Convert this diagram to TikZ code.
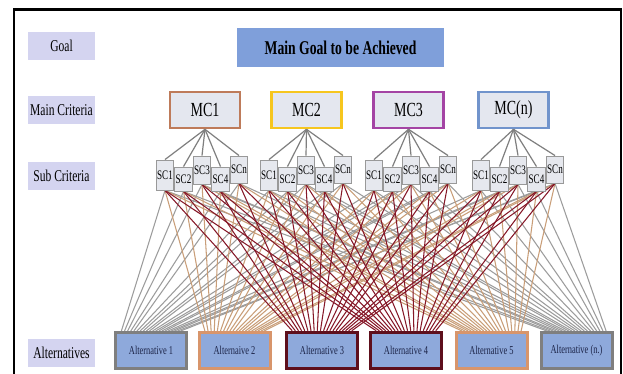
\documentclass[tikz,border=0pt]{standalone}
\usepackage{fontspec}
\setmainfont{Liberation Serif}[FakeStretch=0.7]
\usetikzlibrary{calc}
\definecolor{lav}{HTML}{D4D4F0}
\definecolor{goalblue}{HTML}{7F9FDA}
\definecolor{mcfill}{HTML}{E4E7EF}
\definecolor{scfill}{HTML}{E6E8EE}
\definecolor{altfill}{HTML}{8EA9DB}
\definecolor{cbrown}{HTML}{BE7B5A}
\definecolor{cgold}{HTML}{F6C61E}
\definecolor{cpurple}{HTML}{A444A4}
\definecolor{csteel}{HTML}{7194CC}
\definecolor{bgray}{HTML}{7F7F7F}
\definecolor{btan}{HTML}{D8956B}
\definecolor{bmaroon}{HTML}{5E0F1C}
\definecolor{lgray}{HTML}{9C9C9C}
\definecolor{ltan}{HTML}{C99E78}
\definecolor{lmaroon}{HTML}{861828}
\definecolor{alttext}{HTML}{1C2448}
\begin{document}
\begin{tikzpicture}[x=1pt,y=-1pt,
  levelbox/.style={fill=lav,minimum width=67pt,minimum height=28pt,inner sep=0pt,font=\fontsize{16.5}{17}\selectfont},
  goalbox/.style={fill=goalblue,minimum width=207pt,minimum height=39pt,inner sep=0pt,font=\fontsize{19.5}{20}\selectfont\bfseries},
  mcbox/.style={fill=mcfill,draw=#1,line width=2.6pt,minimum width=70pt,minimum height=36pt,inner sep=0pt,font=\fontsize{20}{21}\selectfont},
  scbox/.style={fill=scfill,draw=bgray!80,line width=0.9pt,minimum width=17.5pt,inner sep=0pt,font=\fontsize{13}{13}\selectfont},
  altbox/.style={fill=altfill,draw=#1,line width=3pt,minimum width=71pt,minimum height=36pt,inner sep=0pt,text=alttext,font=\fontsize{12}{12}\selectfont},
  mcline/.style={draw=bgray,line width=1.2pt},
  linkline/.style={draw=#1,line width=1.05pt},
  frameline/.style={draw=black,line width=2.5pt}]
\useasboundingbox (0,0) rectangle (623,374);
\fill[white] (0,0) rectangle (623,374);
% frame
\coordinate (ftl) at (14,9.5);
\coordinate (ftr) at (621,9.5);
\coordinate (fbl) at (14,374);
\coordinate (fbr) at (621,374);
\draw[frameline] (fbl) -- (ftl) -- (ftr) -- (fbr);
% level labels
\node[levelbox] (lgoal) at (61.5,46) {Goal};
\node[levelbox] (lmc) at (61.5,110) {Main Criteria};
\node[levelbox] (lsc) at (61.5,176) {Sub Criteria};
\node[levelbox] (lalt) at (61.5,353) {Alternatives};
% goal
\node[goalbox] (goal) at (340.5,47.5) {Main Goal to be Achieved};
% main criteria
\node[mcbox=cbrown] (mc1) at (205,110) {MC1};
\node[mcbox=cgold] (mc2) at (306.5,110) {MC2};
\node[mcbox=cpurple] (mc3) at (408.5,110) {MC3};
\node[mcbox=csteel] (mc4) at (513.5,110) {MC(n)};
% alternatives
\node[altbox=bgray] (alt1) at (151,350.5) {Alternative 1};
\node[altbox=btan] (alt2) at (234.5,350.5) {Alternaive 2};
\node[altbox=bmaroon,line width=3.5pt] (alt3) at (322,350.5) {Alternative 3};
\node[altbox=bmaroon,line width=3.5pt] (alt4) at (406,350.5) {Alternative 4};
\node[altbox=btan] (alt5) at (491.5,350.5) {Alternative 5};
\node[altbox=bgray] (alt6) at (576.5,350.5) {Alternative (n.)};
% sub criteria
\foreach \g/\gx in {1/202,2/306,3/411,4/518}{
  \foreach \i/\dx/\yc/\h/\lab in {1/-37/175/30/SC1,2/-18.5/179/24/SC2,3/0/170/28/SC3,4/18.5/179/24/SC4,5/37/169.5/27/SCn}{
    \node[scbox,minimum height=\h pt] (sc\g\i) at ({\gx+\dx},\yc) {\lab};
  }
}
% links sub criteria -> alternatives
\foreach \a/\col in {1/lgray,6/lgray,2/ltan,5/ltan,3/lmaroon,4/lmaroon}{
  \foreach \g in {1,...,4}{
    \foreach \i in {1,...,5}{
      \pgfmathsetmacro\t{0.1+0.8*((\g-1)*5+\i-1)/19}
      \draw[linkline=\col] (sc\g\i.south) -- ($(alt\a.north west)!\t!(alt\a.north east)$);
    }
  }
}
% main criteria -> sub criteria
\foreach \g in {1,...,4}{
  \foreach \i in {1,...,5}{
    \draw[mcline] (mc\g.south) -- (sc\g\i.north);
  }
}
% redraw boxes on top of links
\foreach \g/\gx in {1/202,2/306,3/411,4/518}{
  \foreach \i/\dx/\yc/\h/\lab in {1/-37/175/30/SC1,2/-18.5/179/24/SC2,3/0/170/28/SC3,4/18.5/179/24/SC4,5/37/169.5/27/SCn}{
    \node[scbox,minimum height=\h pt] (scb\g\i) at ({\gx+\dx},\yc) {\lab};
  }
}
\node[altbox=bgray] (altb1) at (151,350.5) {Alternative 1};
\node[altbox=btan] (altb2) at (234.5,350.5) {Alternaive 2};
\node[altbox=bmaroon,line width=3.5pt] (altb3) at (322,350.5) {Alternative 3};
\node[altbox=bmaroon,line width=3.5pt] (altb4) at (406,350.5) {Alternative 4};
\node[altbox=btan] (altb5) at (491.5,350.5) {Alternative 5};
\node[altbox=bgray] (altb6) at (576.5,350.5) {Alternative (n.)};
\end{tikzpicture}
\end{document}
